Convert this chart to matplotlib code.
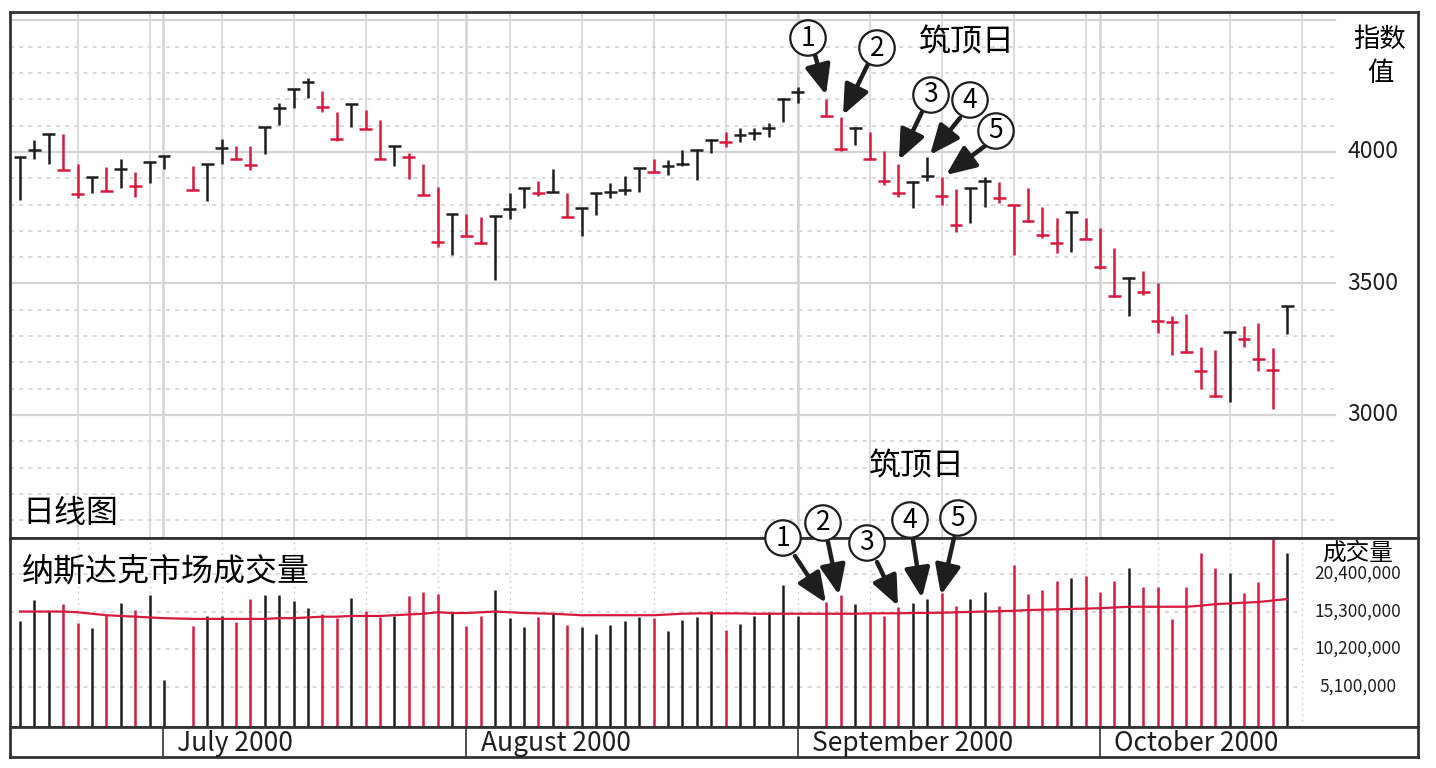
import matplotlib
matplotlib.use("Agg")
import matplotlib.pyplot as plt
import numpy as np

plt.rcParams['font.family'] = ['Noto Sans CJK SC', 'DejaVu Sans']

# trading-day slot for each bar (gaps for Jul 4 and Labor Day)
slots = list(range(0, 11)) + list(range(12, 55)) + list(range(56, 89))
highs = [3981,4046,4068,4068,3954,3905,3943,3973,3924,3962,3985,3947,3954,4049,4023,4023,4095,4186,4239,4281,
         4232,4152,4182,4160,4122,4023,3996,3954,3867,3764,3764,3753,3757,3844,3863,3890,3935,3844,3787,3844,
         3882,3909,3939,3973,3970,4008,4011,4049,4076,4091,4091,4110,4205,4247,4201,4133,4095,4076,4004,3954,
         3890,3981,3905,3859,3863,3905,3886,3799,3863,3791,3749,3772,3749,3711,3635,3525,3548,3502,3377,3384,
         3259,3248,3316,3339,3350,3255,3415]
lows = [3818,3973,3954,3932,3825,3844,3852,3863,3829,3882,3935,3856,3814,3954,3970,3932,3992,4103,4167,4205,
        4152,4042,4095,4087,3973,3947,3897,3837,3639,3609,3681,3650,3514,3745,3787,3833,3848,3753,3681,3761,
        3825,3837,3848,3920,3913,3947,3894,3996,4019,4038,4046,4057,4114,4186,4133,4004,4027,3973,3875,3829,
        3787,3890,3799,3696,3730,3791,3806,3609,3734,3673,3616,3620,3669,3555,3449,3377,3457,3312,3229,3236,
        3099,3069,3050,3259,3168,3023,3308]
closes = [3981,4008,4068,3932,3840,3905,3852,3935,3871,3962,3985,3856,3954,4015,3973,3951,4095,4167,4239,4266,
          4171,4049,4182,4087,3973,4023,3981,3837,3658,3764,3681,3654,3757,3783,3863,3844,3848,3753,3787,3844,
          3846,3856,3939,3924,3947,3954,4008,4046,4038,4065,4072,4091,4201,4228,4137,4011,4091,3973,3890,3844,
          3886,3909,3833,3723,3863,3890,3825,3799,3738,3685,3654,3772,3669,3563,3453,3521,3468,3358,3354,3240,
          3168,3073,3316,3289,3213,3172,3415]
volumes_m = [14.0,16.9,15.4,16.3,13.8,13.1,14.8,16.5,15.5,17.6,6.0,13.3,14.7,14.7,13.9,17.0,17.6,17.6,16.7,15.8,
             15.0,14.4,17.1,15.4,14.6,14.7,17.4,17.9,17.7,15.1,13.3,14.7,18.2,14.4,13.2,14.5,15.1,13.5,13.2,12.2,
             13.5,14.0,14.5,14.4,12.7,14.1,14.6,15.4,12.8,13.6,14.7,15.3,18.9,14.7,16.6,17.5,16.3,15.1,14.7,15.9,
             16.5,17.0,17.8,16.0,17.0,18.0,16.0,21.6,17.7,18.2,19.4,19.9,20.1,18.0,19.5,21.2,18.6,18.6,14.3,18.6,
             23.3,21.2,20.6,17.8,19.3,25.5,23.3]
vol_avg_m = [15.3,15.3,15.3,15.3,15.2,15.0,14.8,14.7,14.6,14.5,14.4,14.3,14.3,14.3,14.3,14.3,14.3,14.4,14.4,14.5,
             14.6,14.6,14.7,14.7,14.7,14.8,14.9,15.0,15.2,15.1,15.1,15.2,15.3,15.2,15.1,15.05,15.0,14.9,14.8,14.8,
             14.8,14.8,14.8,14.8,14.9,15.0,15.05,15.05,15.05,15.05,15.0,15.0,15.0,15.0,15.0,15.0,15.0,15.05,15.06,15.06,
             15.1,15.12,15.14,15.2,15.25,15.3,15.35,15.4,15.5,15.55,15.6,15.65,15.7,15.75,15.85,15.95,15.95,15.95,15.95,15.95,
             16.1,16.3,16.4,16.5,16.6,16.8,17.0]
price_ticks = [3000, 3500, 4000]
vol_ticks = [5.1, 10.2, 15.3, 20.4]
vol_tick_labels = ['5,100,000', '10,200,000', '15,300,000', '20,400,000']
months = ['July 2000', 'August 2000', 'September 2000', 'October 2000']
month_slots = [9.93, 31.0, 54.0, 75.0]

RED = '#d7193f'
BLK = '#1e1e1e'
GRID = '#d4d4d4'
W, H = 1436, 768

def px2slot(x):
    return (x - 20) / 14.4

fig = plt.figure(figsize=(W / 100, H / 100), dpi=100)

def fx(x): return x / W
def fy(y): return 1 - y / H

X0, X1 = 10, 1418
ax = fig.add_axes([fx(X0), fy(538), fx(X1) - fx(X0), fy(12) - fy(538)])
axv = fig.add_axes([fx(X0), fy(727), fx(X1) - fx(X0), fy(538) - fy(727)])
axm = fig.add_axes([fx(X0), fy(757), fx(X1) - fx(X0), fy(727) - fy(757)])

xl = (px2slot(X0), px2slot(X1))
grid_end = px2slot(1335)
week_lines = np.arange(4, 90, 5)

# ---- price panel
ax.set_xlim(*xl)
ax.set_ylim(2532, 4532)
for p in range(2600, 4600, 100):
    if p % 500 == 0:
        ax.plot([xl[0], grid_end], [p, p], color=GRID, lw=1.6, zorder=0)
    else:
        ax.plot([xl[0], grid_end], [p, p], color=GRID, lw=1.2, ls=(0, (2.5, 3)), zorder=0)
for w in week_lines:
    ax.axvline(w, color=GRID, lw=1.2, zorder=0)
for m in month_slots:
    ax.axvline(m, color=GRID, lw=1.8, zorder=0)
prev = closes[0] - 1
for s, h, l, c in zip(slots, highs, lows, closes):
    col = BLK if c >= prev else RED
    ax.plot([s, s], [l, h], color=col, lw=1.8, solid_capstyle='butt')
    ax.plot([s - 0.45, s + 0.45], [c, c], color=col, lw=1.8, solid_capstyle='butt')
    prev = c
for p in price_ticks:
    ax.text(px2slot(1373), p, str(p), ha='center', va='center', fontsize=16.5, color=BLK)
ax.text(px2slot(1380), 4000 + (152 - 40) * 3.802, '指数', ha='center', va='center', fontsize=19)
ax.text(px2slot(1380), 4000 + (152 - 74) * 3.802, '值', ha='center', va='center', fontsize=19)
ax.set_xticks([]); ax.set_yticks([])
for sp in ax.spines.values():
    sp.set_linewidth(2); sp.set_color('#333333')

# ---- volume panel
axv.set_xlim(*xl)
axv.set_ylim(-0.4, 25.3)
for v in vol_ticks:
    axv.plot([xl[0], px2slot(1300)], [v, v], color=GRID, lw=1.2, ls=(0, (2.5, 3)), zorder=0)
for w in week_lines:
    axv.axvline(w, color=GRID, lw=1.0, ls=(0, (1.5, 2.5)), zorder=0)
prev = closes[0] - 1
for s, v, c in zip(slots, volumes_m, closes):
    col = BLK if c >= prev else RED
    axv.plot([s, s], [-0.4, v], color=col, lw=1.8, solid_capstyle='butt')
    prev = c
axv.plot(slots, vol_avg_m, color=RED, lw=1.6, zorder=3)
for v, lab in zip(vol_ticks, vol_tick_labels):
    axv.text(px2slot(1358), v, lab, ha='center', va='center', fontsize=12.5, color=BLK)
axv.text(px2slot(1358), 23.3, '成交量', ha='center', va='center', fontsize=17)
axv.set_xticks([]); axv.set_yticks([])
for sp in axv.spines.values():
    sp.set_linewidth(2); sp.set_color('#333333')

# ---- month strip
axm.set_xlim(*xl); axm.set_ylim(0, 1)
for m, lab in zip(month_slots, months):
    axm.axvline(m, color='#333333', lw=1.2)
    axm.text(m + 1.0, 0.45, lab, ha='left', va='center', fontsize=19, color=BLK)
axm.set_xticks([]); axm.set_yticks([])
for sp in axm.spines.values():
    sp.set_linewidth(2); sp.set_color('#333333')

# ---- texts
fig.text(fx(22), fy(513), '日线图', fontsize=23, va='center', ha='left')
fig.text(fx(22), fy(572), '纳斯达克市场成交量', fontsize=23, va='center', ha='left')
fig.text(fx(967), fy(42), '筑顶日', fontsize=23, va='center', ha='center')
fig.text(fx(917), fy(466), '筑顶日', fontsize=23, va='center', ha='center')

def circ(x, y, n):
    fig.text(fx(x), fy(y), n, fontsize=19, ha='center', va='center',
             bbox=dict(boxstyle='circle,pad=0.16', fc='white', ec=BLK, lw=1.6), zorder=5)

def arrow(x0, y0, x1, y1):
    fig.add_artist(matplotlib.patches.FancyArrowPatch(
        (fx(x0), fy(y0)), (fx(x1), fy(y1)), transform=fig.transFigure,
        arrowstyle='-|>,head_length=0.75,head_width=0.32', lw=3.2, color=BLK,
        mutation_scale=24, shrinkA=0, shrinkB=0, zorder=4))

# price-panel markers
arrow(815, 55, 826, 95); circ(808, 38, '1')
arrow(868, 64, 843, 115); circ(877, 48, '2')
arrow(922, 112, 899, 160); circ(931, 95, '3')
arrow(960, 118, 930, 155); circ(970, 100, '4')
arrow(985, 146, 946, 175); circ(996, 131, '5')
# volume-panel markers
arrow(795, 556, 826, 603); circ(783, 538, '1')
arrow(828, 542, 839, 595); circ(823, 523, '2')
arrow(877, 562, 898, 606); circ(867, 543, '3')
arrow(913, 540, 922, 598); circ(910, 520, '4')
arrow(954, 538, 941, 595); circ(958, 518, '5')

fig.savefig('out.png', dpi=100)
